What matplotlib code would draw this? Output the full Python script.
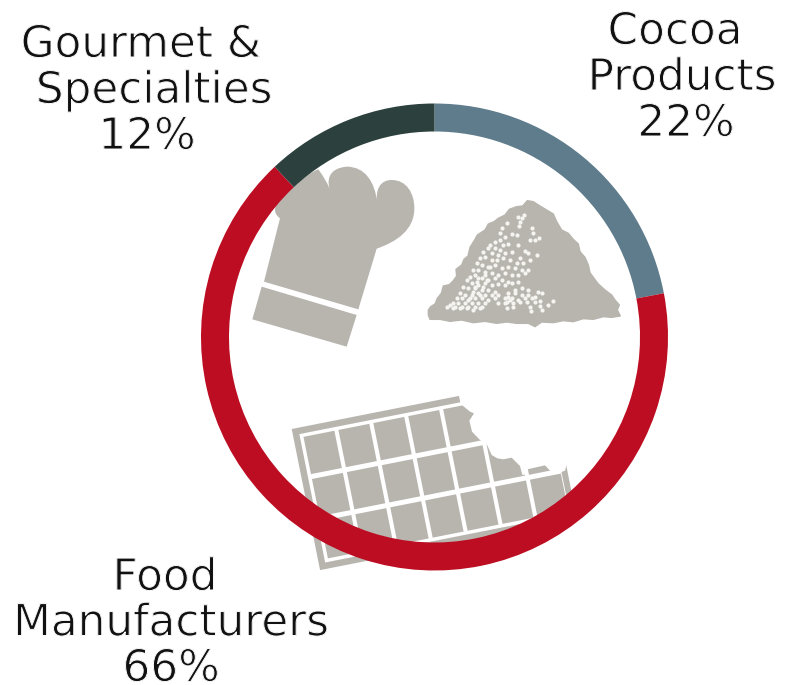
import numpy as np
import matplotlib
matplotlib.use('Agg')
import matplotlib.pyplot as plt
import matplotlib.patheffects as pe
from matplotlib.patches import Polygon, PathPatch
from matplotlib.path import Path

# Share of sales per segment
categories = ['Cocoa Products', 'Food Manufacturers', 'Gourmet & Specialties']
shares = [22, 66, 12]
colors = ['#5F7C8C', '#BC0D22', '#2C403D']

# Label lines per segment with the x centre of each line, the first baseline and the line pitch
label_lines = [['Cocoa', 'Products'], ['Food', 'Manufacturers'], ['Gourmet &', 'Specialties']]
label_x = [[675, 682, 686], [165, 171, 171], [141, 154, 147]]
label_y = [44, 590, 57]
label_pitch = [46, 45.5, 46]

W, H = 785, 685
GREY = '#B8B5AF'

# Chef hat band, in 3x crop coordinates from (240, 150)
hat_band = [(65, 410), (350, 495), (320, 590), (37, 508)]

# Powder heap outline, same crop
heap = [(565, 480), (572, 470), (585, 462), (592, 445), (604, 430), (610, 408), (628, 404), (640, 392),
        (650, 378), (648, 358), (665, 345), (672, 328), (684, 318), (690, 292), (704, 270), (712, 255),
        (735, 240), (745, 222), (762, 215), (775, 205), (795, 195), (808, 178), (830, 170), (848, 168),
        (862, 152), (880, 155), (900, 168), (920, 180), (940, 192), (950, 215), (965, 240), (985, 250),
        (1000, 268), (1015, 282), (1020, 305), (1035, 322), (1045, 345), (1050, 368), (1062, 385), (1075, 402),
        (1095, 420), (1115, 435), (1125, 450), (1138, 465), (1132, 480), (1141, 498), (1115, 502), (1090, 500),
        (1060, 508), (1030, 506), (1000, 515), (970, 512), (940, 518), (905, 516), (885, 530), (865, 520),
        (830, 520), (800, 516), (770, 520), (735, 514), (700, 518), (665, 510), (630, 514), (600, 508),
        (570, 508), (565, 495)]

# Powder speckles, in 3x crop coordinates from (420, 195)
speck_x = [295, 305, 300, 312, 298, 262, 245, 240, 335, 340, 345, 358, 330, 290, 275, 255, 240, 225, 250, 265,
           210, 225, 240, 205, 190, 215, 235, 255, 275, 295, 315, 350, 325, 300, 180, 195, 215, 230, 250, 270,
           290, 310, 330, 170, 185, 205, 225, 245, 265, 285, 305, 325, 160, 175, 195, 215, 235, 255, 275, 295,
           315, 150, 165, 185, 205, 225, 245, 265, 140, 155, 175, 195, 215, 235, 255, 275, 295, 130, 145, 165,
           185, 205, 225, 285, 305, 325, 355, 120, 135, 155, 175, 195, 215, 235, 265, 285, 305, 325, 345, 365,
           110, 125, 145, 165, 185, 205, 225, 255, 275, 295, 315, 335, 360, 400, 100, 115, 135, 155, 175, 195,
           235, 260, 280, 300, 320, 345, 385, 90, 105, 125, 145, 165, 185, 260, 280, 330, 360, 82, 100, 120,
           140, 160, 180, 365, 332, 170, 190, 180, 200, 160, 210, 150, 195, 175, 165, 270, 255, 265]
speck_y = [65, 70, 82, 60, 92, 85, 100, 115, 100, 115, 135, 130, 135, 120, 118, 125, 135, 140, 150, 148,
           150, 158, 165, 160, 170, 175, 180, 175, 170, 150, 168, 180, 175, 190, 190, 185, 195, 195, 190, 195,
           205, 205, 195, 205, 210, 215, 210, 220, 215, 218, 225, 225, 225, 225, 230, 235, 240, 235, 240, 240,
           235, 245, 240, 250, 255, 250, 255, 260, 255, 265, 270, 265, 270, 268, 270, 265, 262, 275, 280, 280,
           285, 285, 290, 285, 280, 285, 290, 295, 300, 300, 295, 300, 300, 300, 295, 295, 300, 300, 305, 295,
           310, 310, 315, 310, 310, 315, 310, 310, 310, 315, 310, 310, 318, 318, 325, 325, 325, 325, 325, 325,
           325, 320, 325, 320, 320, 322, 330, 330, 335, 335, 335, 335, 335, 340, 335, 335, 332, 335, 340, 340,
           340, 345, 340, 345, 347, 260, 275, 300, 255, 290, 215, 310, 240, 250, 275, 315, 325, 305]

# Bite taken out of the chocolate bar, in 3x crop coordinates from (270, 380)
bite = [(566, 44), (572, 72), (600, 95), (612, 100), (598, 122), (606, 155), (630, 180), (650, 192),
        (665, 225), (682, 235), (700, 238), (725, 233), (750, 258), (757, 285), (772, 282), (772, 268), (825, 256),
        (840, 272), (868, 278), (885, 272), (905, 200), (905, -60), (555, -60)]


def flip(points):
    return [(x, H - y) for x, y in points]


def crop(points, x0, y0):
    return flip([(x0 + x / 3, y0 + y / 3) for x, y in points])


fig = plt.figure(figsize=(W / 100, H / 100), dpi=100)
ax = fig.add_axes([0, 0, 1, 1])

# Hat body with its three puffs as bezier segments
hat_steps = [(Path.MOVETO, [(72, 395)]), (Path.LINETO, [(120, 205)]),
             (Path.CURVE4, [(100, 190), (100, 170), (120, 150)]),
             (Path.CURVE4, [(150, 120), (200, 70), (235, 58)]),
             (Path.CURVE4, [(250, 80), (265, 100), (272, 128)]),
             (Path.CURVE4, [(258, 90), (265, 55), (320, 50)]),
             (Path.CURVE4, [(375, 50), (405, 95), (412, 160)]),
             (Path.CURVE4, [(405, 120), (420, 90), (455, 90)]),
             (Path.CURVE4, [(500, 90), (523, 130), (523, 175)]),
             (Path.CURVE4, [(523, 240), (470, 275), (410, 296)]),
             (Path.LINETO, [(355, 478)]), (Path.LINETO, [(72, 395)])]
hat_verts, hat_codes = [], []
for code, pts in hat_steps:
    hat_verts += crop(pts, 240, 150)
    hat_codes += [code] * len(pts)
ax.add_patch(PathPatch(Path(hat_verts, hat_codes), fc=GREY, ec='none', zorder=1))
ax.add_patch(Polygon(crop(hat_band, 240, 150), fc=GREY, ec='none', zorder=1))

# Powder heap
ax.add_patch(Polygon(crop(heap, 240, 150), fc=GREY, ec=GREY, lw=1, zorder=1))
ax.scatter(420 + np.array(speck_x) / 3, H - (195 + np.array(speck_y) / 3), s=9, c='#F5F4F0', lw=0, zorder=2)

# Chocolate bar, laid out along its own tilted axes
origin = np.array([291.7, 429.0])
u = np.array([0.981, -0.194])
v = np.array([0.197, 0.980])


def bar_rect(s0, t0, s1, t1):
    corners = [origin + s * u + t * v for s, t in [(s0, t0), (s1, t0), (s1, t1), (s0, t1)]]
    return flip([tuple(c) for c in corners])


ax.add_patch(Polygon(bar_rect(0, 0, 262, 144), fc=GREY, ec='none', zorder=1))
ax.add_patch(Polygon(bar_rect(6.5, 6.5, 256, 137.5), fc='white', ec='none', zorder=1.1))
for row in range(3):
    for col in range(7):
        s = 10 + col * 35.6
        t = 10 + row * 43
        ax.add_patch(Polygon(bar_rect(s, t, s + 31.5, t + 38), fc=GREY, ec='none', zorder=1.2))
ax.add_patch(Polygon(crop(bite, 270, 380), fc='white', ec='none', zorder=1.3))

# Ring, drawn over the icons
ax.pie(shares, colors=colors, startangle=90, counterclock=False, center=(434.5, H - 337), radius=233.5,
       wedgeprops={'width': 28, 'linewidth': 0, 'zorder': 3})

# Labels, with a thin white edge to lighten the strokes
thin = [pe.Normal(), pe.Stroke(linewidth=0.7, foreground='white')]
for lines, xs, y0, pitch, share in zip(label_lines, label_x, label_y, label_pitch, shares):
    rows = lines + [f'{share}%']
    for i, (line, x) in enumerate(zip(rows, xs)):
        ax.text(x, H - (y0 + i * pitch), line, ha='center', va='baseline', fontsize=31.5,
                family='DejaVu Sans', color='#111111', zorder=4, path_effects=thin)

ax.set_xlim(0, W)
ax.set_ylim(0, H)
ax.set_aspect('equal')
ax.axis('off')

fig.savefig('out.png', dpi=100)
